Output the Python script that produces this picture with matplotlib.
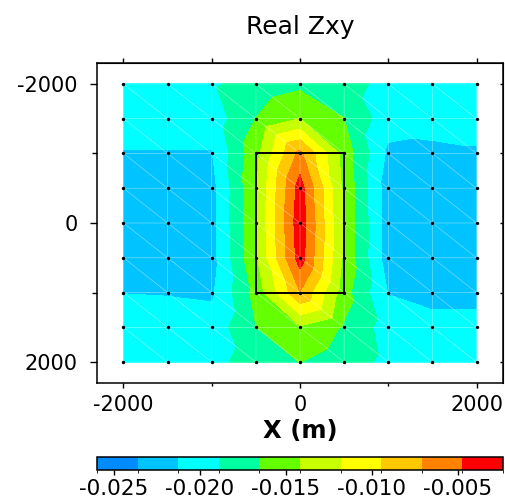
import numpy as np
import matplotlib
matplotlib.use('Agg')
import matplotlib.pyplot as plt
import matplotlib.tri as mtri
from matplotlib.colors import ListedColormap, BoundaryNorm
from matplotlib.patches import Rectangle
import matplotlib.colorbar as mcolorbar

plt.rcParams['font.family'] = ['DejaVu Sans']
plt.rcParams['axes.unicode_minus'] = False

# ---- data ----
x_nodes = [-2000, -1500, -1000, -500, 0, 500, 1000, 1500, 2000]
y_nodes = [-2000, -1500, -1000, -500, 0, 500, 1000, 1500, 2000]

row_m2000 = [-0.0198, -0.0198, -0.0192, -0.0180, -0.0171, -0.0180, -0.0196, -0.0198, -0.0198]
row_m1500 = [-0.0200, -0.0201, -0.0203, -0.0165, -0.0142, -0.0165, -0.0203, -0.0200, -0.0200]
row_m1000 = [-0.0214, -0.0214, -0.0214, -0.0150, -0.0064, -0.0152, -0.0217, -0.0220, -0.0216]
row_m500 = [-0.0222, -0.0222, -0.0221, -0.0144, -0.0037, -0.0147, -0.0225, -0.0225, -0.0222]
row_0 = [-0.0222, -0.0222, -0.0221, -0.0143, -0.0032, -0.0146, -0.0225, -0.0225, -0.0222]
row_p500 = [-0.0222, -0.0222, -0.0221, -0.0145, -0.0036, -0.0147, -0.0225, -0.0225, -0.0222]
row_p1000 = [-0.0213, -0.0214, -0.0216, -0.0157, -0.0072, -0.0156, -0.0214, -0.0225, -0.0225]
row_p1500 = [-0.0200, -0.0200, -0.0203, -0.0166, -0.0145, -0.0168, -0.0200, -0.0200, -0.0200]
row_p2000 = [-0.0198, -0.0198, -0.0196, -0.0178, -0.0165, -0.0178, -0.0195, -0.0198, -0.0198]
rows = [row_m2000, row_m1500, row_m1000, row_m500, row_0,
        row_p500, row_p1000, row_p1500, row_p2000]

level_min = -0.02597
level_max = -0.00238
n_bins = 10
bin_colors = ['#008cff', '#00c3ff', '#00ffff', '#00ffa0', '#64ff00',
              '#c8ff00', '#ffff00', '#ffc800', '#ff8200', '#ff0000']
cbar_ticks = [-0.025, -0.020, -0.015, -0.010, -0.005]
rect_x = [-500, 500]
rect_y = [-1000, 1000]

# ---- build triangulation ----
nx, ny = len(x_nodes), len(y_nodes)
X, Y = np.meshgrid(x_nodes, y_nodes)
Z = np.array(rows)
triangles = []
for j in range(ny - 1):
    for i in range(nx - 1):
        a = j * nx + i
        b = j * nx + i + 1
        c = (j + 1) * nx + i + 1
        d = (j + 1) * nx + i
        triangles.append([a, b, c])
        triangles.append([a, c, d])
tri = mtri.Triangulation(X.ravel(), Y.ravel(), triangles)

levels = np.linspace(level_min, level_max, n_bins + 1)
cmap = ListedColormap(bin_colors)
norm = BoundaryNorm(levels, cmap.N)

fig = plt.figure(figsize=(5.05, 4.99), dpi=100)
W, H = 505, 499
ax = fig.add_axes([97 / W, 1 - 383 / H, 406 / W, 320 / H])

ax.tricontourf(tri, Z.ravel(), levels=levels, cmap=cmap, norm=norm, antialiased=False)
ax.triplot(tri, color='white', lw=0.5, alpha=0.45)
ax.scatter(X.ravel(), Y.ravel(), s=6, c='black', zorder=4, linewidths=0)
ax.add_patch(Rectangle((rect_x[0], rect_y[0]), rect_x[1] - rect_x[0], rect_y[1] - rect_y[0],
                       fill=False, edgecolor='black', lw=1.4, zorder=5))

ax.set_xlim(-2300, 2300)
ax.set_ylim(2300, -2300)
ax.set_xticks([-2000, 0, 2000])
ax.set_xticks([-1000, 1000], minor=True)
ax.set_yticks([-2000, 0, 2000])
ax.set_yticks([-1000, 1000], minor=True)
ax.tick_params(axis='x', which='major', length=3.5, width=1, direction='out', pad=5, labelsize=15)
ax.tick_params(axis='x', which='minor', length=2, width=1, direction='out')
ax.tick_params(axis='y', which='major', length=5, width=1, direction='out', pad=9, labelsize=15)
ax.tick_params(axis='y', which='minor', length=3.5, width=1, direction='out')
for s in ax.spines.values():
    s.set_linewidth(1.1)

top = ax.secondary_xaxis('top')
top.set_xticks([-2000, -1000, 0, 1000, 2000])
top.tick_params(length=3.5, width=1, direction='out', labeltop=False)
right = ax.secondary_yaxis('right')
right.set_yticks([-2000, -1000, 0, 1000, 2000])
right.tick_params(length=2.5, width=1, direction='in', labelright=False)

fig.text(300 / W, 1 - 34 / H, 'Real Zxy', ha='center', va='baseline', fontsize=18)
fig.text(300 / W, 1 - 438 / H, 'X (m)', ha='center', va='baseline', fontsize=17.5,
         fontweight='bold')

cax = fig.add_axes([97 / W, 1 - 469.5 / H, 406 / W, 12.5 / H])
cb = mcolorbar.ColorbarBase(cax, cmap=cmap, norm=norm, boundaries=levels,
                            orientation='horizontal', ticks=cbar_ticks)
cb.ax.set_xticklabels(['%.3f' % t for t in cbar_ticks])
cb.ax.tick_params(length=3.5, width=1, direction='out', pad=3, labelsize=15.5)
cb.outline.set_linewidth(1.1)

fig.savefig('out.png', dpi=100)
